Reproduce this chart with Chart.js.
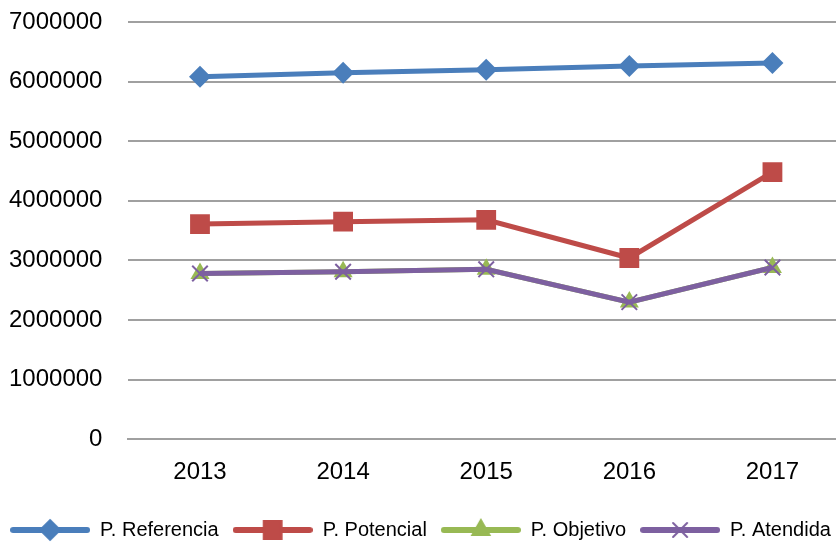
<!DOCTYPE html>
<html>
<head>
<meta charset="utf-8">
<script src="https://cdn.jsdelivr.net/npm/chart.js@4"></script>
<style>
    html, body { margin: 0; padding: 0; background: #fff; overflow: hidden; }
    #wrap { position: relative; width: 858px; height: 542px; }
</style>
</head>
<body>
<div id="wrap"><canvas id="chart"></canvas></div>
<script>
const years = ['2013', '2014', '2015', '2016', '2017'];
const referencia = [6080000, 6150000, 6200000, 6260000, 6310000];
const potencial = [3610000, 3650000, 3680000, 3040000, 4480000];
const objetivo = [2780000, 2810000, 2850000, 2300000, 2880000];
const atendida = [2780000, 2810000, 2850000, 2300000, 2880000];
const yTicks = [0, 1000000, 2000000, 3000000, 4000000, 5000000, 6000000, 7000000];

const FONT = "'Liberation Sans', Arial, sans-serif";

const series = [
    { label: 'P. Referencia', data: referencia, color: '#4A7EBB', style: 'rectRot', radius: 11, order: 3 },
    { label: 'P. Potencial', data: potencial, color: '#BE4B48', style: 'rect', radius: 14, order: 2 },
    { label: 'P. Objetivo', data: objetivo, color: '#98B954', style: 'triangle', radius: 11, order: 1 },
    { label: 'P. Atendida', data: atendida, color: '#7D60A0', style: 'crossRot', radius: 11, order: 0 }
];

// legend swatch: short line with the marker in the middle, like the office legend
function makeIcon(s) {
    const c = document.createElement('canvas');
    c.width = 80;
    c.height = 24;
    const ctx = c.getContext('2d');
    ctx.strokeStyle = s.color;
    ctx.fillStyle = s.color;
    ctx.lineWidth = 6;
    ctx.lineCap = 'round';
    ctx.beginPath();
    ctx.moveTo(3, 12);
    ctx.lineTo(77, 12);
    ctx.stroke();
    ctx.lineWidth = 2;
    Chart.helpers.drawPoint(ctx, {
        pointStyle: s.style,
        radius: s.radius * 0.9,
        rotation: 0,
        borderWidth: 2
    }, 40, 12);
    return c;
}

new Chart(document.getElementById('chart'), {
    type: 'line',
    data: {
        labels: years,
        datasets: series.map(s => ({
            label: s.label,
            data: s.data,
            order: s.order,
            borderColor: s.color,
            backgroundColor: s.color,
            borderWidth: 5,
            tension: 0,
            pointStyle: s.style,
            pointRadius: s.radius,
            pointHoverRadius: s.radius,
            pointBorderWidth: s.style === 'crossRot' ? 2 : 0,
            pointBorderColor: s.color,
            pointBackgroundColor: s.color,
            legendIcon: makeIcon(s)
        }))
    },
    options: {
        responsive: true,
        maintainAspectRatio: false,
        animation: false,
        layout: { padding: { left: -17, top: 22, right: 0, bottom: -8 } },
        plugins: {
            tooltip: { enabled: false },
            legend: {
                position: 'bottom',
                labels: {
                    usePointStyle: true,
                    pointStyleWidth: 80,
                    boxHeight: 22,
                    padding: 14,
                    color: '#000',
                    font: { family: FONT, size: 20 },
                    generateLabels: chart => chart.data.datasets.map((ds, i) => ({
                        text: ds.label,
                        pointStyle: ds.legendIcon,
                        fillStyle: ds.borderColor,
                        strokeStyle: ds.borderColor,
                        lineWidth: 0,
                        hidden: false,
                        datasetIndex: i,
                        fontColor: '#000'
                    }))
                }
            }
        },
        scales: {
            x: {
                offset: true,
                afterFit: axis => { axis.paddingLeft = 0; axis.paddingRight = 0; },
                grid: { display: false, drawTicks: false },
                border: { display: true, color: '#A0A0A0', width: 2 },
                ticks: { color: '#000', padding: 19, font: { family: FONT, size: 24 } }
            },
            y: {
                min: 0,
                max: 7000000,
                afterBuildTicks: axis => { axis.ticks = yTicks.map(v => ({ value: v })); },
                afterFit: axis => { axis.paddingTop = 0; axis.paddingBottom = 0; },
                grid: { color: '#A0A0A0', lineWidth: 2, drawTicks: false },
                border: { display: false },
                ticks: {
                    color: '#000',
                    padding: 26,
                    font: { family: FONT, size: 24 },
                    callback: v => String(v)
                }
            }
        }
    }
});
</script>
</body>
</html>
